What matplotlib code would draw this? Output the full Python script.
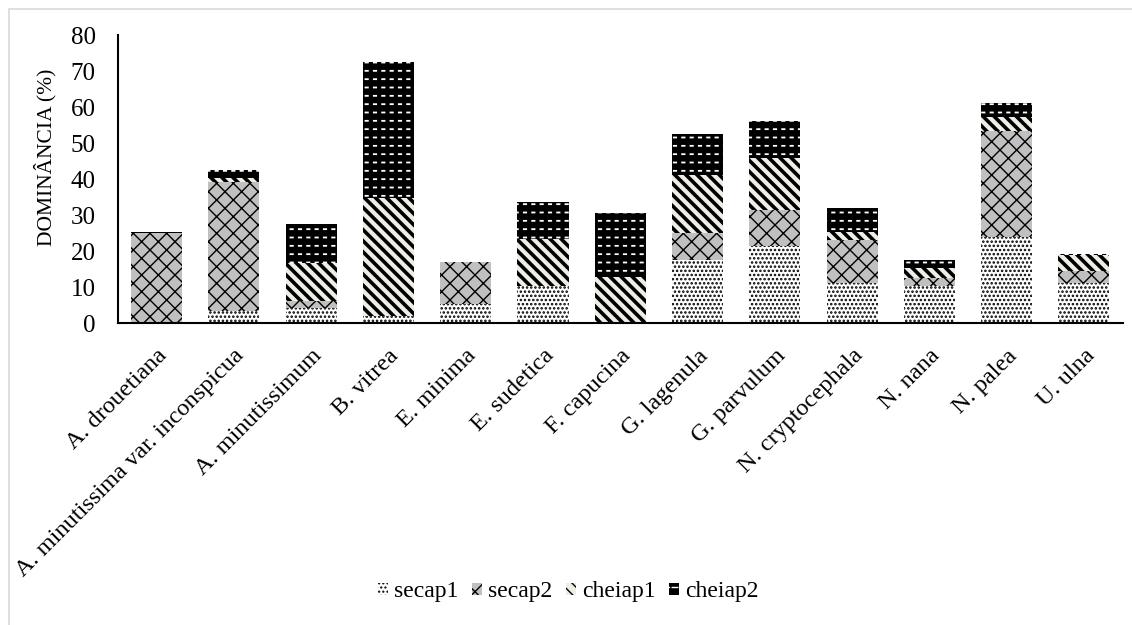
import matplotlib
matplotlib.use('Agg')
import matplotlib.pyplot as plt
from matplotlib.patches import Rectangle
from matplotlib.legend_handler import HandlerTuple
import numpy as np

plt.rcParams['font.family'] = ['Liberation Serif', 'DejaVu Serif']

especies = ['A. drouetiana', 'A. minutissima var. inconspicua', 'A. minutissimum',
            'B. vitrea', 'E. minima', 'E. sudetica', 'F. capucina', 'G. lagenula',
            'G. parvulum', 'N. cryptocephala', 'N. nana', 'N. palea', 'U. ulna']

secap1 = [0.0, 3.3, 4.1, 1.9, 5.3, 10.4, 0.3, 17.5, 21.5, 11.0, 10.4, 24.0, 11.2]
secap2 = [25.0, 36.0, 2.0, 0.0, 11.6, 0.0, 0.0, 7.4, 9.9, 12.1, 2.0, 29.4, 3.3]
cheiap1 = [0.0, 1.0, 10.5, 32.7, 0.0, 12.9, 12.4, 16.2, 14.3, 2.1, 2.8, 3.7, 4.3]
cheiap2 = [0.3, 2.2, 10.9, 37.8, 0.0, 10.2, 17.9, 11.4, 10.5, 6.8, 2.3, 3.9, 0.3]

series = ['secap1', 'secap2', 'cheiap1', 'cheiap2']


def hatched_bar(ax, x, h, bottom, face, hatch, hcolor, hlw, width=0.66):
    with plt.rc_context({'hatch.linewidth': hlw}):
        bars = ax.bar(x, h, width, bottom=bottom, color=face, edgecolor=hcolor,
                      hatch=hatch, linewidth=0)
    for b in bars:
        if hasattr(b, 'set_hatch_linewidth'):
            b.set_hatch_linewidth(hlw)
    return bars


fig = plt.figure(figsize=(11.32, 6.25), dpi=100)
ax = fig.add_axes([0.1042, 0.4832, 0.8875, 0.4608])

x = np.arange(len(especies))
b1 = np.array(secap1)
b2 = b1 + np.array(secap2)
b3 = b2 + np.array(cheiap1)

h1 = hatched_bar(ax, x, secap1, 0, 'white', '....', 'black', 1.2)
h2 = hatched_bar(ax, x, secap2, b1, '#c0c0c0', 'xx', 'black', 1.0)
h3 = hatched_bar(ax, x, cheiap1, b2, '#efeee6', '\\\\\\', 'black', 2.6)
h4a = hatched_bar(ax, x, cheiap2, b3, 'black', '--', 'white', 1.3)
h4b = hatched_bar(ax, x, cheiap2, b3, 'none', '||', 'black', 3.0)

ax.set_xlim(-0.5, len(especies) - 0.5)
ax.set_ylim(0, 80)
ax.set_yticks(range(0, 81, 10))
ax.tick_params(axis='y', length=0, pad=16, labelsize=18)
ax.tick_params(axis='x', length=0, pad=16)
ax.set_xticks(x)
ax.set_xticklabels(especies, rotation=45, ha='right', va='top',
                   rotation_mode='anchor', fontsize=17.5)
for side in ['top', 'right']:
    ax.spines[side].set_visible(False)
for side in ['left', 'bottom']:
    ax.spines[side].set_linewidth(1.5)
ax.set_ylabel('DOMINÂNCIA (%)', fontsize=15.5)
ax.yaxis.set_label_coords(-0.061, 0.575)

fig.legend([h1, h2, h3, (h4a, h4b)], series, loc='center',
           bbox_to_anchor=(0.502, 0.053), ncol=4, frameon=False, fontsize=17,
           handlelength=0.45, handleheight=0.45, handletextpad=0.25,
           columnspacing=0.55, handler_map={tuple: HandlerTuple(ndivide=1)})

fig.add_artist(Rectangle((9 / 1132, -0.05), 1.2, 1 - 9 / 625 + 0.05,
                         transform=fig.transFigure, fill=False,
                         edgecolor='#d9d9d9', linewidth=1.2))

fig.savefig('out.png', dpi=100)
